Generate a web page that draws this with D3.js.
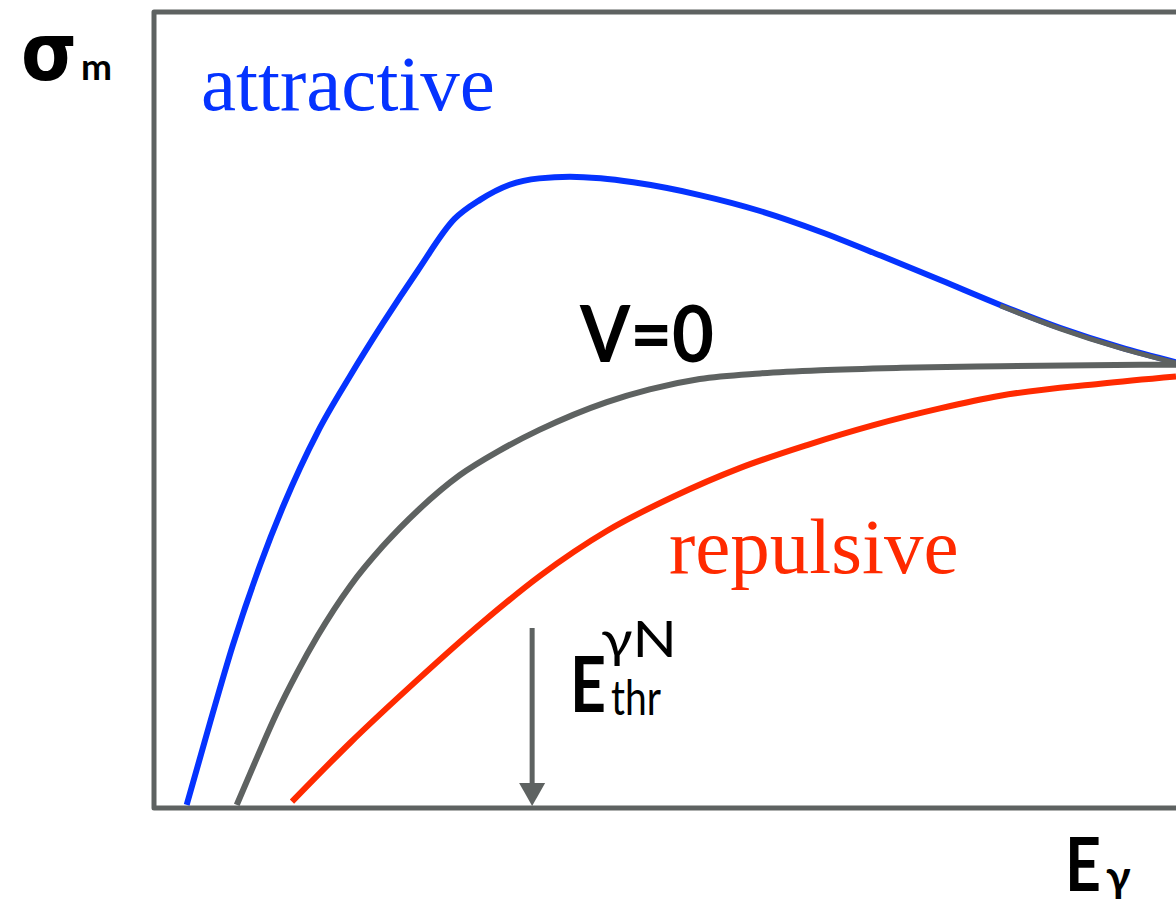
<!DOCTYPE html>
<html>
<head>
<meta charset="utf-8">
<script src="https://cdn.jsdelivr.net/npm/d3@7"></script>
<style>
  html, body { margin: 0; padding: 0; background: #fff; overflow: hidden; }
  svg { display: block; }
</style>
</head>
<body>
<svg id="chart" width="1176" height="906"></svg>
<script>
// Photon energy (arbitrary units) and meson production cross section (arbitrary units)
const energyAttractive = [0.32, 0.55, 0.77, 1.04, 1.27, 1.60, 1.92, 2.24, 2.58, 2.94, 3.19, 3.48, 3.77, 4.07, 4.37, 4.69, 5.34, 5.93, 6.52, 7.11, 7.70, 8.28, 8.87, 9.45, 10.0];
const sigmaAttractive  = [0.04, 1.08, 2.04, 3.06, 3.81, 4.72, 5.43, 6.09, 6.75, 7.40, 7.64, 7.83, 7.91, 7.93, 7.91, 7.86, 7.70, 7.50, 7.24, 6.94, 6.63, 6.32, 6.03, 5.79, 5.60];

const energyFree = [0.81, 1.01, 1.20, 1.40, 1.60, 1.92, 2.24, 2.60, 2.99, 3.38, 3.77, 4.43, 4.85, 5.34, 5.93, 6.52, 7.31, 8.28, 10.0];
const sigmaFree  = [0.04, 0.64, 1.19, 1.70, 2.16, 2.79, 3.29, 3.76, 4.18, 4.49, 4.75, 5.10, 5.26, 5.39, 5.46, 5.50, 5.53, 5.55, 5.57];

const energyRepulsive = [1.35, 1.92, 2.57, 3.22, 3.78, 4.43, 5.08, 5.73, 6.39, 7.04, 7.69, 8.28, 9.26, 10.0];
const sigmaRepulsive  = [0.08, 0.82, 1.60, 2.34, 2.92, 3.48, 3.91, 4.27, 4.56, 4.81, 5.02, 5.18, 5.33, 5.42];

// Free-nucleon production threshold
const thresholdEnergy = 3.70;
// High-energy part of the attractive curve, where it coincides with the V=0 trend
const mergeEnergy = 7.91;

const svg = d3.select("#chart");

const x = d3.scaleLinear().domain([0, 10]).range([154, 1176]);
const y = d3.scaleLinear().domain([0, 10]).range([808, 12]);

const GRAY = "#5e6261";
const BLUE = "#0533ff";
const RED = "#ff2a00";
const LW = 6;

const line = d3.line()
  .x(d => x(d[0]))
  .y(d => y(d[1]))
  .curve(d3.curveMonotoneX);

const zip = (a, b) => a.map((v, i) => [v, b[i]]);

// Frame: left axis, bottom axis, top border (open on the right)
const xEnd = x(10.6);
svg.append("path")
  .attr("d", `M${xEnd},${y(10)}L${x(0)},${y(10)}L${x(0)},${y(0)}L${xEnd},${y(0)}`)
  .attr("fill", "none")
  .attr("stroke", GRAY)
  .attr("stroke-width", 5)
  .attr("stroke-linejoin", "round");

// Curves
const attractive = zip(energyAttractive, sigmaAttractive);
svg.append("path")
  .attr("d", line(attractive))
  .attr("fill", "none").attr("stroke", BLUE).attr("stroke-width", LW);

svg.append("path")
  .attr("d", line(zip(energyFree, sigmaFree)))
  .attr("fill", "none").attr("stroke", GRAY).attr("stroke-width", LW);

svg.append("path")
  .attr("d", line(zip(energyRepulsive, sigmaRepulsive)))
  .attr("fill", "none").attr("stroke", RED).attr("stroke-width", LW);

// Gray overlay where the attractive curve approaches the V=0 limit
svg.append("path")
  .attr("d", line(attractive.filter(d => d[0] >= mergeEnergy)))
  .attr("fill", "none").attr("stroke", GRAY).attr("stroke-width", LW - 1)
  .attr("transform", "translate(0,0.8)");

// Threshold arrow
const ax = x(thresholdEnergy);
svg.append("line")
  .attr("x1", ax).attr("x2", ax)
  .attr("y1", 628).attr("y2", y(0) - 20)
  .attr("stroke", GRAY).attr("stroke-width", 5);
svg.append("path")
  .attr("d", `M${ax - 13},${y(0) - 25}L${ax + 13},${y(0) - 25}L${ax},${y(0) - 2}Z`)
  .attr("fill", GRAY);

// Labels
const sans = "Lato, 'Open Sans', 'DejaVu Sans', sans-serif";
const serif = "'Liberation Serif', 'Times New Roman', serif";

svg.append("text")
  .attr("x", 21).attr("y", 80)
  .attr("font-family", "'DejaVu Sans', sans-serif").attr("font-weight", "bold")
  .attr("font-size", 80).attr("fill", "#000")
  .attr("textLength", 56).attr("lengthAdjust", "spacingAndGlyphs")
  .text("σ");
svg.append("text")
  .attr("x", 81).attr("y", 80)
  .attr("font-family", sans).attr("font-weight", "bold")
  .attr("font-size", 37).attr("fill", "#000")
  .text("m");

svg.append("text")
  .attr("x", 201).attr("y", 110)
  .attr("font-family", serif).attr("font-size", 79).attr("fill", BLUE)
  .text("attractive");

svg.append("text")
  .attr("x", 669).attr("y", 573)
  .attr("font-family", serif).attr("font-size", 79).attr("fill", RED)
  .text("repulsive");

svg.append("text")
  .attr("x", 580).attr("y", 362)
  .attr("font-family", sans).attr("font-weight", "bold").attr("font-size", 78).attr("fill", "#000")
  .attr("textLength", 134).attr("lengthAdjust", "spacingAndGlyphs")
  .text("V=0");

const eth = svg.append("g").attr("font-family", sans).attr("fill", "#000");
eth.append("text").attr("x", 570).attr("y", 712).attr("font-size", 76).attr("font-weight", "bold")
  .attr("textLength", 36).attr("lengthAdjust", "spacingAndGlyphs").text("E");
eth.append("text").attr("x", 611).attr("y", 715).attr("font-size", 48)
  .attr("textLength", 50).attr("lengthAdjust", "spacingAndGlyphs").text("thr");
eth.append("text").attr("x", 601).attr("y", 657).attr("font-size", 51)
  .attr("textLength", 76).attr("lengthAdjust", "spacingAndGlyphs").text("γN");

svg.append("text")
  .attr("x", 1065).attr("y", 891)
  .attr("font-family", sans).attr("font-weight", "bold").attr("font-size", 74).attr("fill", "#000")
  .attr("textLength", 36).attr("lengthAdjust", "spacingAndGlyphs")
  .text("E");
svg.append("text")
  .attr("x", 1106).attr("y", 892)
  .attr("font-family", sans).attr("font-weight", "bold").attr("font-size", 44).attr("fill", "#000")
  .text("γ");
</script>
</body>
</html>
